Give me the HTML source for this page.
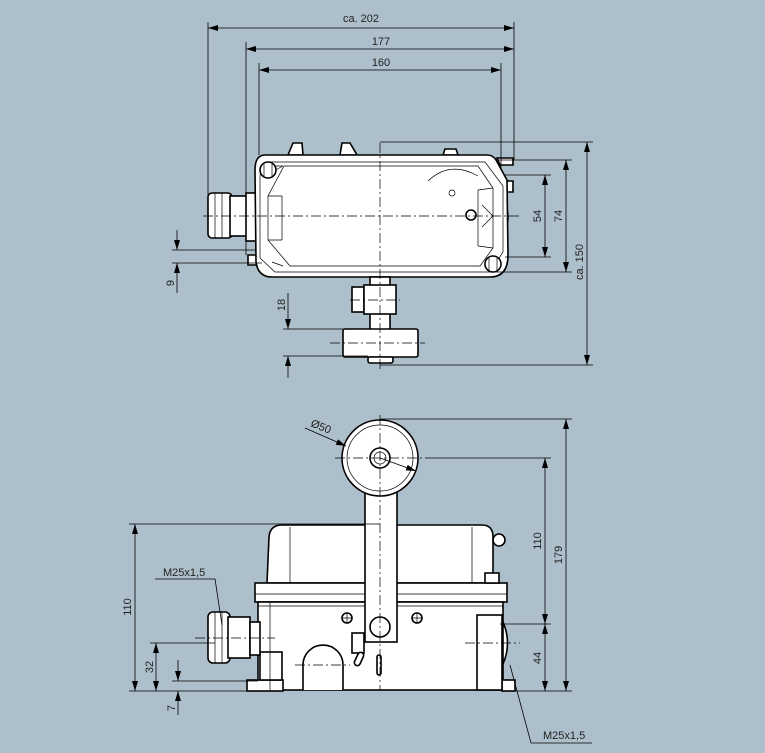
<!DOCTYPE html>
<html><head><meta charset="utf-8"><style>
html,body{margin:0;padding:0;background:#adbfcb;}
svg{display:block;font-family:"Liberation Sans",sans-serif;}
.o{fill:#fff;stroke:#000;stroke-width:1.6}
.t{fill:none;stroke:#000;stroke-width:0.7}
.d{stroke:#000;stroke-width:0.8;fill:none}
.c{stroke:#000;stroke-width:0.7;stroke-dasharray:10 3 2 3;fill:none}
text{font-size:11px;fill:#222}
</style></head><body>
<svg width="765" height="753" viewBox="0 0 765 753">
<defs>
<marker id="a" viewBox="0 0 10 6" refX="10" refY="3" markerWidth="10" markerHeight="6" orient="auto-start-reverse" markerUnits="userSpaceOnUse"><path d="M0,0L10,3L0,6z" fill="#000"/></marker>
</defs>

<!-- ===== TOP VIEW ===== -->
<path class="o" d="M288,155 L293,143 L302,143 L303,155 Z"/>
<path class="o" d="M340,155 L342,143 L350,143 L357,155 Z"/>
<path class="o" d="M443,155 L445,149 L456,149 L458,155 Z"/>
<path class="o" d="M497,158 L513,158 L513,165 L500,165 Z"/>
<path class="o" d="M500,181 L513,181 L513,192 L504,192 Z"/>
<path class="o" d="M248,255 L262,255 L262,265 L248,265 Z"/>
<rect class="o" x="208" y="193" width="24" height="45" rx="4"/>
<rect class="o" x="230" y="196" width="17" height="40"/>
<rect class="o" x="246" y="193" width="10" height="48"/>
<path class="t" d="M215,193 V238 M222,193 V238"/>
<path class="o" d="M503,200 Q513,216 503,236 Z"/>
<path class="o" d="M265,155 L487,155 Q493,155 496,160 L507,180 L508,255 Q508,277 490,277 L272,277 Q258,277 256,262 L255,170 Q255,155 265,155 Z"/>
<path class="t" d="M270,162 L485,162 L503,186 L503,252 L490,272 L275,272 L260,258 L260,175 Z"/>
<path class="t" d="M284,166 L478,166 L493,188 L493,248 L480,266 L290,266 L268,240 L268,196 Z"/>
<path class="t" d="M282,196 L268,196 M282,196 V240 M282,240 L268,240 M478,190 L493,188 M478,246 L493,248 M478,190 V246"/>
<path class="t" d="M262,166 L283,166 M272,172 L283,166 M272,262 L283,266"/>
<path class="t" d="M428,181 Q450,160 478,176"/>
<circle class="o" cx="268" cy="170" r="8"/><path class="t" d="M264,164 V176 M272,164 V176"/>
<circle class="o" cx="493" cy="264" r="8"/><path class="t" d="M489,258 V270 M497,258 V270"/>
<circle class="t" cx="452" cy="193" r="3"/>
<circle class="o" cx="471" cy="215" r="5"/>
<path class="t" d="M482,205 L493,216 L482,227"/>
<rect class="o" x="370" y="277" width="20" height="53"/>
<rect class="o" x="352" y="287" width="12" height="25"/>
<rect class="o" x="364" y="285" width="32" height="29"/>
<rect class="o" x="343" y="329" width="75" height="28" rx="2"/>
<rect class="o" x="368" y="357" width="25" height="6" rx="2"/>
<path class="c" d="M380,143 V370 M203,216 L520,216 M350,300 L400,300 M330,343 L425,343"/>

<path class="d" d="M208,22 V230 M246,42 V255 M259,63 V155 M514,22 V160 M501,63 V170"/>
<path class="d" marker-start="url(#a)" marker-end="url(#a)" d="M208,28 H514"/>
<path class="d" marker-start="url(#a)" marker-end="url(#a)" d="M246,49 H514"/>
<path class="d" marker-start="url(#a)" marker-end="url(#a)" d="M259,70 H501"/>
<text x="361" y="22" text-anchor="middle">ca. 202</text>
<text x="381" y="45" text-anchor="middle">177</text>
<text x="381" y="66" text-anchor="middle">160</text>
<path class="d" d="M380,142 H593 M496,160 H572 M505,175 H551 M505,257 H551 M495,272 H572 M380,365 H593"/>
<path class="d" marker-start="url(#a)" marker-end="url(#a)" d="M545,175 V257"/>
<path class="d" marker-start="url(#a)" marker-end="url(#a)" d="M566,160 V272"/>
<path class="d" marker-start="url(#a)" marker-end="url(#a)" d="M587,142 V365"/>
<text transform="translate(541,216) rotate(-90)" text-anchor="middle">54</text>
<text transform="translate(562,216) rotate(-90)" text-anchor="middle">74</text>
<text transform="translate(583,262) rotate(-90)" text-anchor="middle">ca. 150</text>
<path class="d" d="M172,250 H256 M172,263 H262 M283,329 H345 M283,356 H368"/>
<path class="d" marker-end="url(#a)" d="M177,230 V250"/><path class="d" marker-end="url(#a)" d="M177,293 V263"/>
<text transform="translate(174,283) rotate(-90)" text-anchor="middle">9</text>
<path class="d" marker-end="url(#a)" d="M288,293 V329"/><path class="d" marker-end="url(#a)" d="M288,378 V356"/>
<text transform="translate(285,305) rotate(-90)" text-anchor="middle">18</text>

<!-- ===== FRONT VIEW ===== -->
<path class="o" d="M267,583 L269,537 Q270,525 282,525 L482,525 Q493,525 493,537 L493,583 Z"/>
<path class="t" d="M290,527 V583 M472,527 V583"/>
<circle class="o" cx="499" cy="540" r="6"/>
<rect class="o" x="255" y="583" width="252" height="19"/>
<path class="t" d="M255,594 H507"/>
<rect class="o" x="258" y="602" width="245" height="88"/>
<path class="t" d="M258,606 H503"/>
<rect class="o" x="247" y="680" width="36" height="11"/>
<rect class="o" x="502" y="680" width="13" height="11"/>
<rect class="o" x="477" y="615" width="25" height="75"/>
<rect class="o" x="260" y="652" width="22" height="28"/>
<path class="t" d="M270,602 V690"/>
<rect class="o" x="485" y="573" width="14" height="10"/>
<rect class="o" x="208" y="612" width="22" height="51" rx="5"/>
<rect class="o" x="228" y="617" width="22" height="41"/>
<rect class="o" x="250" y="622" width="10" height="33"/>
<path class="t" d="M215,612 V663 M222,612 V663"/>
<path class="o" d="M503,622 Q512,643 503,664 Z"/>
<path class="o" d="M303,690 L303,665 A20,20 0 0 1 343,665 L343,690"/>
<circle class="o" cx="347" cy="618" r="5"/><path class="t" d="M342,618 H352 M347,613 V623"/>
<circle class="o" cx="417" cy="618" r="5"/><path class="t" d="M412,618 H422 M417,613 V623"/>
<rect class="o" x="352" y="633" width="12" height="20"/>
<rect class="o" x="356" y="652" width="6" height="14" rx="3" transform="rotate(25 359 659)"/>
<rect class="o" x="377" y="655" width="4" height="20" rx="2"/>
<rect class="o" x="365" y="490" width="32" height="152"/>
<circle class="o" cx="380" cy="627" r="10"/>
<circle class="o" cx="380" cy="458" r="38" stroke-width="2"/>
<circle class="t" cx="380" cy="458" r="33"/>
<circle class="o" cx="380" cy="458" r="10"/>
<circle class="t" cx="380" cy="458" r="6"/>
<path class="c" d="M380,415 V690 M335,458 L425,458 M195,638 L275,638 M465,643 L520,643 M295,665 L350,665"/>
<path class="d" marker-end="url(#a)" d="M305,428 L346,446"/>
<path class="d" marker-end="url(#a)" d="M380,458 L416,471"/>
<text transform="translate(310,426) rotate(22)">Ø50</text>
<path class="d" d="M129,524 H380 M150,643 H215 M129,691 H255 M172,681 H258"/>
<path class="d" marker-start="url(#a)" marker-end="url(#a)" d="M135,524 V691"/>
<text transform="translate(131,607) rotate(-90)" text-anchor="middle">110</text>
<path class="d" marker-start="url(#a)" marker-end="url(#a)" d="M156,643 V691"/>
<text transform="translate(153,667) rotate(-90)" text-anchor="middle">32</text>
<path class="d" marker-end="url(#a)" d="M178,660 V681"/><path class="d" marker-end="url(#a)" d="M178,715 V691"/>
<text transform="translate(175,708) rotate(-90)" text-anchor="middle">7</text>
<text x="163" y="576">M25x1,5</text>
<path class="d" d="M155,579 H215 L222,625"/>
<path class="d" d="M380,419 H572 M425,458 H551 M500,624 H551 M505,691 H572"/>
<path class="d" marker-start="url(#a)" marker-end="url(#a)" d="M545,458 V624"/>
<path class="d" marker-start="url(#a)" marker-end="url(#a)" d="M545,624 V691"/>
<path class="d" marker-start="url(#a)" marker-end="url(#a)" d="M566,419 V691"/>
<text transform="translate(541,541) rotate(-90)" text-anchor="middle">110</text>
<text transform="translate(541,658) rotate(-90)" text-anchor="middle">44</text>
<text transform="translate(562,555) rotate(-90)" text-anchor="middle">179</text>
<text x="543" y="739">M25x1,5</text>
<path class="d" d="M592,743 H531 L510,665"/>
</svg>
</body></html>
